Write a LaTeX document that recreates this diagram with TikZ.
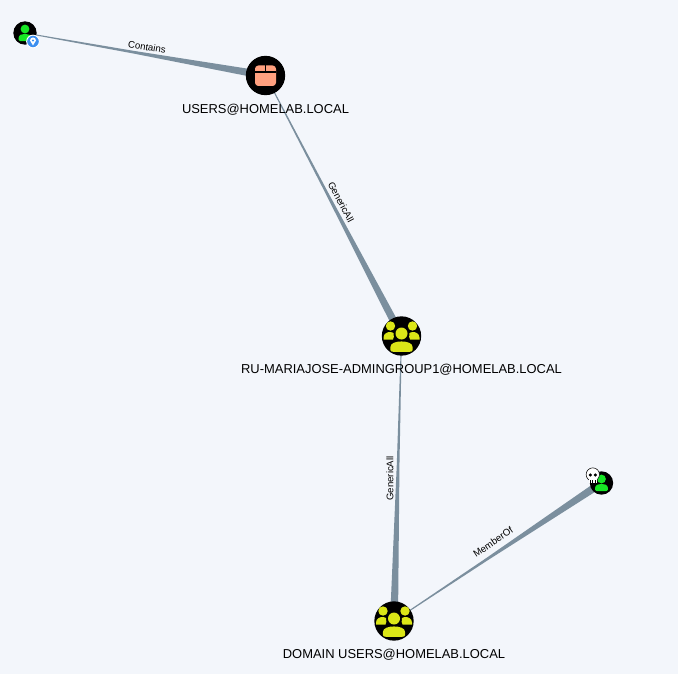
\documentclass[tikz,border=0pt]{standalone}
\usepackage{fontspec}
\setmainfont{Liberation Sans}
\usepackage{xcolor}
\usetikzlibrary{calc, positioning, backgrounds}

\definecolor{canvasbg}{HTML}{F3F6FB}
\definecolor{edgegray}{HTML}{7B8F9E}
\definecolor{groupyellow}{HTML}{DBE617}
\definecolor{usergreen}{HTML}{17E625}
\definecolor{ouorange}{HTML}{FFA07F}
\definecolor{badgeblue}{HTML}{3B8FF0}

% thin at the first node, wide at the second
\newcommand{\taperedge}[3]{
    \coordinate (waist) at ($(#1)!0.45!(#2)$);
    \fill[edgegray] ($(#1)!0.3pt!90:(#2)$) -- ($(waist)!1pt!90:(#2)$) -- ($(#2)!#3!-90:(#1)$) -- ($(#2)!#3!90:(#1)$) -- ($(waist)!1pt!-90:(#2)$) -- ($(#1)!0.3pt!-90:(#2)$) -- cycle;
}

\tikzset{
    personbody/.pic={
        \fill[pic actions] (-7,8) -- (-7,6) .. controls (-7,2.5) and (-3,1.5) .. (0,1.5) .. controls (3,1.5) and (7,2.5) .. (7,6) -- (7,8) .. controls (7,9) and (6,9.5) .. (5,9.5) -- (-5,9.5) .. controls (-6,9.5) and (-7,9) .. (-7,8) -- cycle;
    },
    usericon/.pic={
        \fill[usergreen] (0,-4) circle[radius=4.4];
        \pic[fill=usergreen, scale=0.92] at (0,-0.5) {personbody};
    },
    groupicon/.pic={
        \fill[groupyellow] (-11,-10) circle[radius=4.7];
        \fill[groupyellow] (11,-10) circle[radius=4.7];
        \fill[groupyellow] (0,-2.5) circle[radius=6];
        \fill[groupyellow] (-18,3.5) -- (-18,1.5) .. controls (-18,-2.5) and (-14,-4) .. (-12,-4) .. controls (-10.5,-4) and (-8.5,-3.5) .. (-8,-3) .. controls (-8,0) and (-7,2) .. (-8.5,3.5) -- cycle;
        \fill[groupyellow] (18,3.5) -- (18,1.5) .. controls (18,-2.5) and (14,-4) .. (12,-4) .. controls (10.5,-4) and (8.5,-3.5) .. (8,-3) .. controls (8,0) and (7,2) .. (8.5,3.5) -- cycle;
        \pic[fill=groupyellow, xscale=1.6, yscale=1.3] at (0,3.5) {personbody};
    },
    boxicon/.pic={
        \fill[ouorange, rounded corners=2.5pt] (-10.5,-10) rectangle (10.5,10.5);
        \draw[black, line width=1pt] (-10.5,-3.5) -- (10.5,-3.5) (0,-10) -- (0,-3.5);
    }
}

\begin{document}
\begin{tikzpicture}[
    x=0.75pt, y=-0.75pt,
    hostnode/.style={circle, fill=black, inner sep=0pt},
    bignode/.style={hostnode, minimum size=29.5pt},
    smallnode/.style={hostnode, minimum size=17.5pt},
    titlelabel/.style={font=\fontsize{9.7pt}{12pt}\selectfont, inner sep=0pt},
    edgelabel/.style={font=\fontsize{7.2pt}{8pt}\selectfont, inner sep=0pt}
]
\useasboundingbox (0,0) rectangle (678,674);

\node[smallnode] (ownedadmin) at (25,33) {};
\node[bignode] (usersou) at (265.5,75.5) {};
\node[bignode] (admingroup) at (401.5,336) {};
\node[bignode] (domainusers) at (394,621) {};
\node[smallnode] (memberuser) at (601.5,483) {};

\pic at (ownedadmin) {usericon};
\pic at (memberuser) {usericon};
\pic at (usersou) {boxicon};
\pic at (admingroup) {groupicon};
\pic at (domainusers) {groupicon};

% badge on the first user
\node[circle, fill=badgeblue, draw=white, line width=0.7pt, minimum size=9.5pt, inner sep=0pt] (pinbadge) at (33,41.5) {};
\fill[white] (33,45.5) -- (30,40.5) arc[start angle=180, end angle=360, radius=3] -- cycle;
\fill[badgeblue] (33,40.5) circle[radius=1.2];

% skull on the second user
\node[circle, fill=white, draw=black, line width=0.4pt, minimum size=10pt, inner sep=0pt] (skullbadge) at (592.8,474.5) {};
\fill[white] (589,477) rectangle (596.5,483);
\fill[black] (590.3,475) circle[radius=1.7] (595.3,475) circle[radius=1.7];
\draw[black, line width=0.5pt] (590.5,480) -- (590.5,483) (592.8,480) -- (592.8,483) (595,480) -- (595,483);

\node[titlelabel] (userstext) at (265.5,110) {USERS@HOMELAB.LOCAL};
\node[titlelabel] (admingrouptext) at (401.5,370) {RU-MARIAJOSE-ADMINGROUP1@HOMELAB.LOCAL};
\node[titlelabel] (domainuserstext) at (394,655) {DOMAIN USERS@HOMELAB.LOCAL};

\begin{scope}[on background layer]
\fill[canvasbg] (0,0) rectangle (678,674);
\taperedge{ownedadmin}{usersou}{3pt}
\taperedge{usersou}{admingroup}{3pt}
\taperedge{admingroup}{domainusers}{3pt}
\taperedge{domainusers}{memberuser}{3pt}
\end{scope}

\node[edgelabel, rotate=-10] (containslabel) at (147,47) {Contains};
\node[edgelabel, rotate=-62] (genericalltop) at (341,202) {GenericAll};
\node[edgelabel, rotate=90] (genericallbottom) at (390,478.5) {GenericAll};
\node[edgelabel, rotate=34] (memberlabel) at (493,542) {MemberOf};

\end{tikzpicture}
\end{document}
